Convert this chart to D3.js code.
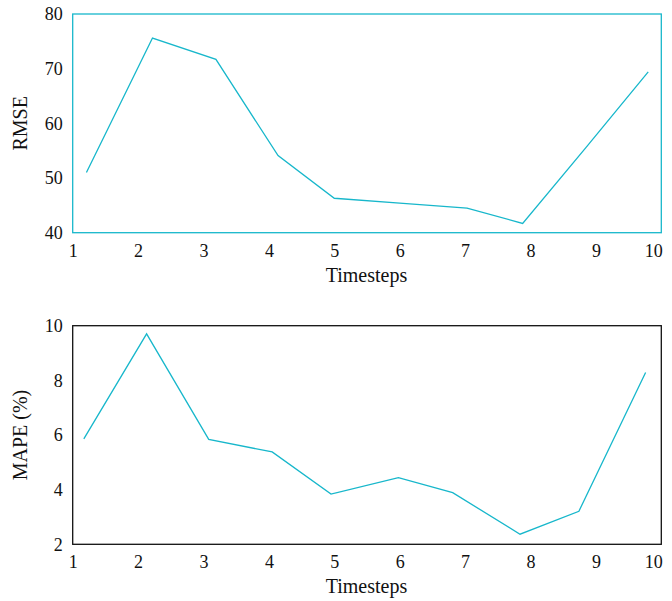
<!DOCTYPE html>
<html>
<head>
<meta charset="utf-8">
<script src="https://cdn.jsdelivr.net/npm/d3@7"></script>
<style>
  html, body { margin: 0; padding: 0; background: #fff; }
  svg { display: block; }
  text { font-family: "Liberation Serif", "DejaVu Serif", serif; fill: #111; }
</style>
</head>
<body>
<script>
// ---- data ----
const xTicks = [1, 2, 3, 4, 5, 6, 7, 8, 9, 10];

const rmseX = [1.21, 2.22, 3.19, 4.14, 5.0, 6.0, 7.03, 7.88, 8.85, 9.8];
const rmseY = [51.0, 75.6, 71.7, 54.1, 46.3, 45.4, 44.5, 41.7, 55.6, 69.4];
const rmseTicks = [40, 50, 60, 70, 80];

const mapeX = [1.17, 2.13, 3.08, 4.05, 4.95, 5.98, 6.81, 7.84, 8.74, 9.76];
const mapeY = [5.86, 9.7, 5.84, 5.38, 3.84, 4.44, 3.89, 2.37, 3.21, 8.29];
const mapeTicks = [2, 4, 6, 8, 10];

const lineColor = "#17b7cb";

const W = 672, H = 601;
const svg = d3.select("body").append("svg").attr("width", W).attr("height", H);

function panel(cfg) {
  const x = d3.scaleLinear().domain([1, 10]).range([72.7, 661.3]);
  const y = d3.scaleLinear().domain(cfg.yDomain).range([cfg.bottom, cfg.top]);
  const g = svg.append("g");

  // frame
  g.append("rect")
    .attr("x", x(1)).attr("y", y(cfg.yDomain[1]))
    .attr("width", x(10) - x(1)).attr("height", y(cfg.yDomain[0]) - y(cfg.yDomain[1]))
    .attr("fill", "none").attr("stroke", cfg.frameColor).attr("stroke-width", 1.3);

  // x axis (labels only)
  const xa = g.append("g").attr("transform", `translate(0,${cfg.bottom})`)
    .call(d3.axisBottom(x).tickValues(xTicks).tickSize(0).tickPadding(0).tickFormat(d3.format("d")));
  xa.select(".domain").remove();
  xa.selectAll("text")
    .attr("dy", null).attr("y", 24)
    .style("font-size", "18px")
    .attr("text-anchor", d => d === 10 ? "end" : "middle")
    .attr("dx", d => d === 10 ? "0.05em" : 0);

  // y axis (labels only)
  const ya = g.append("g").attr("transform", `translate(${x(1)},0)`)
    .call(d3.axisLeft(y).tickValues(cfg.yTicks).tickSize(0).tickPadding(10).tickFormat(d3.format("d")));
  ya.select(".domain").remove();
  ya.selectAll("text").style("font-size", "18px");

  // axis titles
  g.append("text")
    .attr("x", (x(1) + x(10)) / 2 - 0.5).attr("y", cfg.bottom + 49)
    .attr("text-anchor", "middle").style("font-size", "20px")
    .text("Timesteps");
  g.append("text")
    .attr("transform", `translate(27,${(cfg.top + cfg.bottom) / 2}) rotate(-90)`)
    .attr("text-anchor", "middle").style("font-size", "20px")
    .text(cfg.yLabel);

  // line
  const pts = cfg.xs.map((v, i) => [v, cfg.ys[i]]);
  g.append("path")
    .datum(pts)
    .attr("fill", "none").attr("stroke", lineColor).attr("stroke-width", 1.3)
    .attr("stroke-linejoin", "miter")
    .attr("d", d3.line().x(d => x(d[0])).y(d => y(d[1])));
}

panel({ top: 14, bottom: 232.7, yDomain: [40, 80], yTicks: rmseTicks,
        xs: rmseX, ys: rmseY, yLabel: "RMSE", frameColor: lineColor });
panel({ top: 325.7, bottom: 544.3, yDomain: [2, 10], yTicks: mapeTicks,
        xs: mapeX, ys: mapeY, yLabel: "MAPE (%)", frameColor: "#111" });
</script>
</body>
</html>
